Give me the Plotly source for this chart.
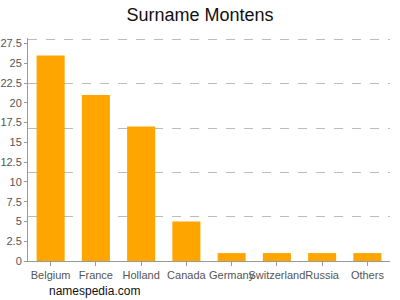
import plotly.graph_objects as go

categories = ["Belgium", "France", "Holland", "Canada", "Germany", "Switzerland", "Russia", "Others"]
values = [26, 21, 17, 5, 1, 1, 1, 1]
ytick_vals = [0, 2.5, 5, 7.5, 10, 12.5, 15, 17.5, 20, 22.5, 25, 27.5]
ytick_text = ["0", "2.5", "5", "7.5", "10", "12.5", "15", "17.5", "20", "22.5", "25", "27.5"]
grid_vals = [5.6, 11.2, 16.8, 22.4, 28]

fig = go.Figure()
fig.add_trace(go.Bar(x=categories, y=values, marker=dict(color="#FFA500", line=dict(width=0)), showlegend=False))
# invisible trace for the dashed grid axis
fig.add_trace(go.Scatter(x=categories, y=values, yaxis="y2", mode="none", showlegend=False, hoverinfo="skip"))

fig.update_layout(
    width=400, height=300,
    margin=dict(l=28, r=10, t=38, b=39, autoexpand=False),
    paper_bgcolor="white", plot_bgcolor="white",
    font=dict(family="Liberation Sans, Arial, sans-serif", color="#555555", size=11),
    title=dict(text="Surname Montens", x=0.5, xanchor="center", y=0.95, yanchor="middle",
               font=dict(size=18, color="#111111")),
    bargap=0.38,
    xaxis=dict(showline=True, linecolor="#999999", linewidth=1, ticks="outside", ticklen=4,
               tickcolor="#999999", tickfont=dict(size=11, color="#555555"), showgrid=False,
               tickangle=0, automargin=False),
    yaxis=dict(range=[0, 28.2], tickvals=ytick_vals, ticktext=ytick_text, showline=True,
               linecolor="#999999", linewidth=1, ticks="outside", ticklen=3, tickcolor="#999999",
               showgrid=False, zeroline=False, tickfont=dict(size=11, color="#555555"),
               automargin=False),
    yaxis2=dict(range=[0, 28.2], overlaying="y", side="right", tickvals=grid_vals,
                showticklabels=False, showgrid=True, gridcolor="#BBBBBB", griddash="dash",
                gridwidth=1, zeroline=False, showline=False, ticks="", automargin=False),
    annotations=[dict(text="namespedia.com", xref="paper", yref="paper", x=0.052, y=-0.136,
                      xanchor="left", yanchor="middle", showarrow=False,
                      font=dict(size=12, color="#111111"))],
)

fig.write_html("out.html")
